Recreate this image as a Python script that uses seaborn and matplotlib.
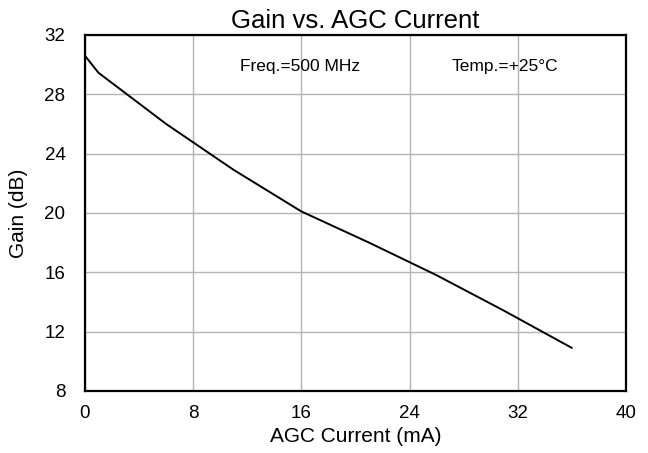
import matplotlib
matplotlib.use("Agg")
import matplotlib.pyplot as plt
import seaborn as sns
import pandas as pd

# data
agc_current_ma = [0, 1, 6, 11, 16, 21, 26, 31, 36]
gain_db = [30.6, 29.45, 26.0, 22.9, 20.1, 18.0, 15.8, 13.4, 10.9]

x_ticks = [0, 8, 16, 24, 32, 40]
y_ticks = [8, 12, 16, 20, 24, 28, 32]

sns.set_style("whitegrid", {"grid.color": "#b4b4b4", "axes.edgecolor": "black",
                            "text.color": "black", "axes.labelcolor": "black",
                            "xtick.color": "black", "ytick.color": "black"})
plt.rcParams['font.family'] = ['Liberation Sans', 'DejaVu Sans']

df = pd.DataFrame({"current": agc_current_ma, "gain": gain_db})

fig = plt.figure(figsize=(6.48, 4.53), dpi=100)
ax = fig.add_axes([0.131, 0.137, 0.835, 0.786])

sns.lineplot(data=df, x="current", y="gain", color="black", linewidth=1.4, ax=ax)

ax.set_xlim(0, 40)
ax.set_ylim(8, 32)
ax.set_xticks(x_ticks)
ax.set_yticks(y_ticks)
ax.grid(True, color="#b4b4b4", linewidth=1)
for s in ax.spines.values():
    s.set_color("black")
    s.set_linewidth(1.6)
ax.tick_params(labelsize=13.5, length=0, labelcolor="black")
ax.tick_params(axis="y", pad=14)
ax.tick_params(axis="x", pad=10)

ax.set_xlabel("AGC Current (mA)", fontsize=15, labelpad=4, color="black")
ax.set_ylabel("Gain (dB)", fontsize=15, labelpad=12, color="black")
ax.set_title("Gain vs. AGC Current", fontsize=18.5, pad=5, color="black")

ax.text(11.45, 29.84, "Freq.=500 MHz", fontsize=12.5, ha="left", va="center", color="black")
ax.text(27.1, 29.84, "Temp.=+25°C", fontsize=12.5, ha="left", va="center", color="black")

plt.savefig("out.png", dpi=100)
